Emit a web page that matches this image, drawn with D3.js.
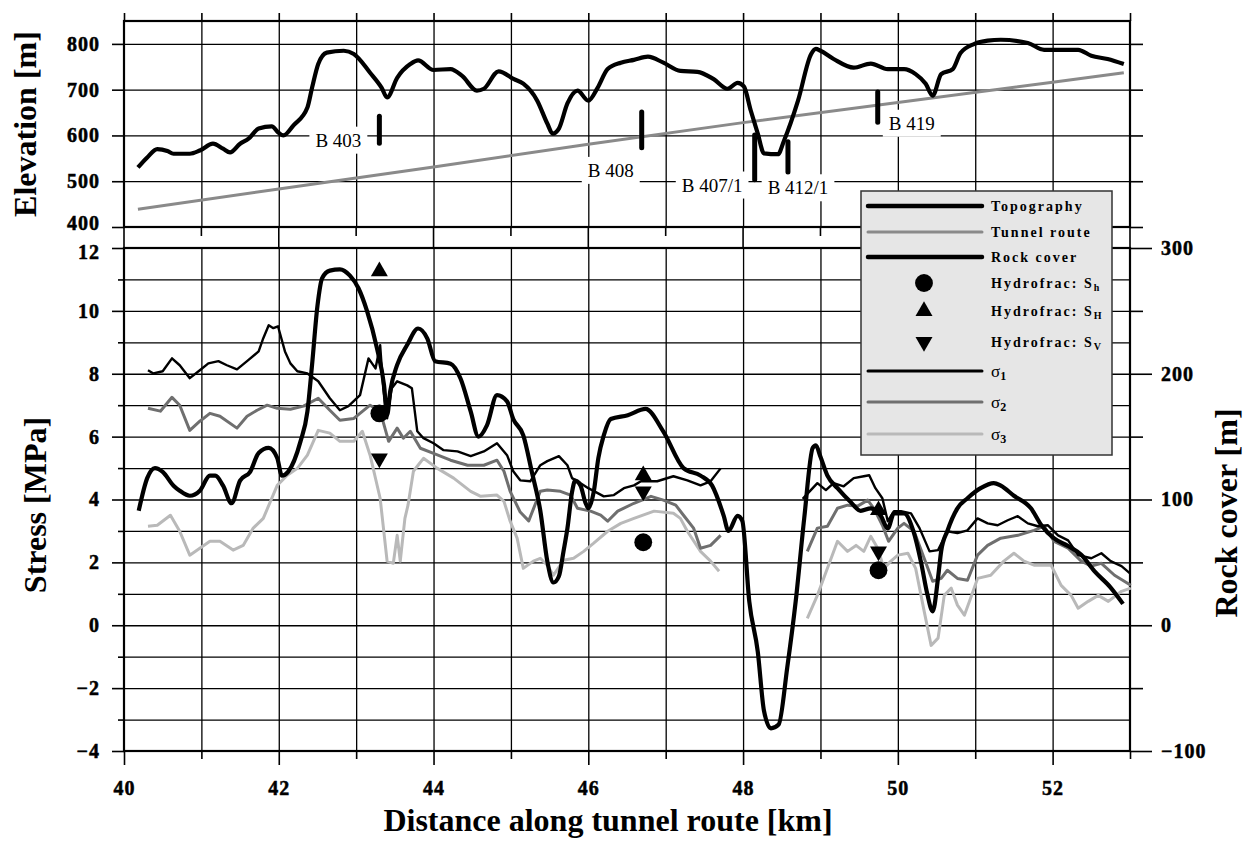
<!DOCTYPE html>
<html>
<head>
<meta charset="utf-8">
<script src="https://cdn.jsdelivr.net/npm/d3@7"></script>
<style>
  body { margin: 0; background: #fff; }
  svg { display: block; }
  text { font-family: "Liberation Serif", "Times New Roman", serif; }
</style>
</head>
<body>
<svg id="chart" width="1250" height="841"></svg>
<script>
// ---- Data: distance [km] along the tunnel route ----

// Surface topography [km, m a.s.l.]
const topography = [
  [40.18,530],[40.30,552],[40.43,570],[40.56,566],[40.64,560],[40.85,560],[40.98,567],[41.15,582],
  [41.28,571],[41.37,563],[41.50,582],[41.61,593],[41.74,615],[41.91,620],[41.99,607],[42.06,600],
  [42.19,622],[42.37,661],[42.43,704],[42.51,756],[42.62,781],[42.84,785],[42.97,778],[43.18,737],
  [43.33,704],[43.40,683],[43.53,726],[43.70,756],[43.80,764],[44.00,743],[44.22,745],[44.37,730],
  [44.56,698],[44.65,702],[44.84,740],[45.04,723],[45.16,713],[45.34,676],[45.47,626],[45.54,604],
  [45.62,615],[45.73,670],[45.86,698],[46.00,676],[46.12,704],[46.25,745],[46.42,759],[46.59,765],
  [46.77,772],[46.97,759],[47.19,741],[47.41,739],[47.62,723],[47.80,702],[47.93,715],[48.01,707],
  [48.10,654],[48.19,604],[48.27,561],[48.45,559],[48.53,589],[48.71,676],[48.88,778],[48.94,789],
  [49.00,785],[49.17,767],[49.43,748],[49.65,757],[49.87,745],[50.08,745],[50.23,734],[50.36,713],
  [50.45,687],[50.56,734],[50.71,745],[50.81,780],[50.99,800],[51.16,807],[51.33,809],[51.68,802],
  [51.89,787],[52.33,787],[52.50,774],[52.71,767],[52.92,756]
];

// Tunnel axis elevation [km, m a.s.l.]
const tunnelRoute = [
  [40.18,439],[42.00,483],[44.00,531],[46.00,581],[48.00,628],[50.00,672],[52.00,716],[52.92,737]
];

// Rock cover above the tunnel [km, m]
const rockCover = [
  [40.19,91],[40.30,117],[40.40,125],[40.50,122],[40.64,111],[40.72,107],[40.85,103],[40.98,107],
  [41.11,119],[41.18,119],[41.28,111],[41.39,97],[41.50,115],[41.63,122],[41.74,137],[41.87,141],
  [41.98,133],[42.04,119],[42.12,122],[42.28,146],[42.37,170],[42.43,207],[42.50,254],[42.56,276],
  [42.66,282],[42.79,283],[42.92,278],[43.03,268],[43.14,250],[43.27,220],[43.36,191],[43.40,167],
  [43.44,186],[43.53,207],[43.66,223],[43.80,236],[43.92,228],[44.02,210],[44.22,208],[44.35,196],
  [44.48,170],[44.58,150],[44.69,159],[44.82,183],[44.95,178],[45.03,164],[45.16,151],[45.27,122],
  [45.38,91],[45.47,51],[45.55,34],[45.62,39],[45.68,59],[45.73,77],[45.79,106],[45.83,115],
  [45.90,111],[45.96,98],[46.00,93],[46.07,106],[46.13,133],[46.20,151],[46.29,164],[46.51,167],
  [46.74,172],[46.97,154],[47.23,125],[47.45,119],[47.60,111],[47.75,87],[47.81,75],[47.93,87],
  [47.99,83],[48.08,19],[48.19,-21],[48.27,-68],[48.36,-82],[48.46,-79],[48.57,-34],[48.68,19],
  [48.79,85],[48.90,141],[48.94,143],[49.00,134],[49.09,119],[49.22,109],[49.39,98],[49.52,91],
  [49.65,93],[49.78,87],[49.87,77],[49.95,89],[50.08,89],[50.20,75],[50.30,50],[50.38,25],
  [50.45,11],[50.52,38],[50.56,59],[50.64,75],[50.77,93],[50.90,101],[51.07,109],[51.24,113],
  [51.33,111],[51.50,103],[51.72,93],[51.85,80],[52.02,69],[52.20,63],[52.37,56],[52.54,43],
  [52.75,30],[52.91,17]
];

// Principal stresses along the route [km, MPa]; null marks the gap in the model
const sigma1 = [
  [40.31,8.11],[40.38,8.01],[40.50,8.08],[40.62,8.49],[40.72,8.27],[40.85,7.86],[40.98,8.11],
  [41.09,8.33],[41.22,8.40],[41.33,8.27],[41.46,8.14],[41.59,8.40],[41.74,8.71],[41.80,9.13],
  [41.87,9.54],[41.93,9.45],[41.99,9.51],[42.08,8.71],[42.15,8.33],[42.24,8.08],[42.37,8.01],
  [42.51,7.76],[42.66,7.22],[42.79,6.84],[42.90,6.97],[43.05,7.32],[43.16,8.49],[43.25,8.17],
  [43.31,8.91],[43.35,7.54],[43.40,6.58],[43.46,7.54],[43.53,7.76],[43.66,7.63],[43.72,7.54],
  [43.79,6.17],[43.87,5.95],[44.00,5.79],[44.13,5.57],[44.31,5.53],[44.48,5.38],[44.65,5.53],
  [44.82,5.79],[44.95,5.41],[45.03,4.90],[45.12,4.61],[45.25,4.58],[45.38,5.09],[45.47,5.22],
  [45.62,5.38],[45.73,5.09],[45.79,4.68],[45.90,4.52],[46.00,4.36],[46.20,4.10],[46.33,4.14],
  [46.46,4.36],[46.59,4.45],[46.68,4.58],[46.89,4.58],[47.10,4.74],[47.28,4.61],[47.45,4.45],
  [47.58,4.58],[47.71,4.99],
  [48.20,null],
  [48.77,4.02],[48.96,4.52],[49.07,4.30],[49.17,4.52],[49.30,4.42],[49.43,4.68],[49.56,4.74],
  [49.63,4.77],[49.71,4.36],[49.80,4.04],[49.87,3.31],[49.95,3.63],[50.04,3.63],[50.17,3.56],
  [50.28,3.09],[50.41,2.35],[50.52,2.39],[50.64,2.99],[50.77,2.93],[50.90,3.02],[51.03,3.40],
  [51.16,3.24],[51.29,3.18],[51.42,3.34],[51.55,3.47],[51.68,3.24],[51.81,3.15],[51.94,3.18],
  [52.07,2.86],[52.20,2.70],[52.33,2.23],[52.50,2.13],[52.63,2.29],[52.75,2.04],[52.89,1.88],
  [53.00,1.65]
];

const sigma2 = [
  [40.31,6.90],[40.47,6.81],[40.62,7.25],[40.72,7.00],[40.85,6.20],[40.98,6.49],[41.11,6.74],
  [41.24,6.65],[41.46,6.27],[41.59,6.65],[41.72,6.84],[41.85,7.00],[41.98,6.90],[42.15,6.87],
  [42.32,6.97],[42.51,7.22],[42.66,6.84],[42.79,6.52],[42.97,6.58],[43.18,7.00],[43.31,6.81],
  [43.42,5.85],[43.53,6.27],[43.61,5.95],[43.70,6.17],[43.83,5.63],[44.00,5.47],[44.22,5.25],
  [44.44,5.09],[44.65,5.09],[44.82,5.25],[44.91,4.90],[44.99,4.26],[45.12,3.60],[45.23,3.32],
  [45.38,4.26],[45.47,4.30],[45.64,4.26],[45.77,4.14],[45.86,3.72],[46.03,3.63],[46.16,3.50],
  [46.25,3.31],[46.38,3.63],[46.59,3.88],[46.81,4.10],[46.97,3.98],[47.13,3.82],[47.23,3.50],
  [47.36,3.09],[47.45,2.45],[47.58,2.54],[47.71,2.86],
  [48.20,null],
  [48.83,2.35],[48.96,3.09],[49.09,3.15],[49.22,3.72],[49.35,3.82],[49.48,3.79],[49.61,3.98],
  [49.69,3.72],[49.80,3.18],[49.88,2.67],[50.00,3.09],[50.08,3.24],[50.21,2.99],[50.34,2.13],
  [50.45,1.40],[50.56,1.49],[50.64,1.75],[50.77,1.49],[50.90,1.43],[51.03,2.23],[51.16,2.54],
  [51.33,2.77],[51.55,2.86],[51.76,3.02],[51.89,3.15],[52.02,2.67],[52.20,2.45],[52.37,2.04],
  [52.50,1.88],[52.63,1.97],[52.80,1.59],[53.01,1.27]
];

const sigma3 = [
  [40.31,3.15],[40.43,3.18],[40.60,3.50],[40.72,2.99],[40.85,2.23],[40.98,2.45],[41.11,2.67],
  [41.24,2.67],[41.41,2.39],[41.54,2.54],[41.67,3.09],[41.80,3.40],[41.98,4.45],[42.11,4.77],
  [42.24,4.99],[42.37,5.41],[42.51,6.20],[42.66,6.11],[42.79,5.85],[42.97,5.85],[43.08,6.17],
  [43.18,5.41],[43.31,4.04],[43.40,2.04],[43.48,1.97],[43.53,2.86],[43.57,2.04],[43.63,3.40],
  [43.67,3.82],[43.74,4.90],[43.80,5.09],[43.87,5.31],[44.05,4.99],[44.26,4.68],[44.48,4.26],
  [44.61,4.10],[44.82,4.14],[44.91,3.94],[44.99,3.31],[45.08,2.77],[45.16,1.81],[45.29,2.04],
  [45.38,2.13],[45.47,1.91],[45.55,1.59],[45.68,2.07],[45.81,2.13],[45.94,2.35],[46.07,2.61],
  [46.25,2.99],[46.42,3.24],[46.59,3.40],[46.85,3.63],[47.10,3.56],[47.19,3.40],[47.28,2.99],
  [47.45,2.35],[47.58,2.04],[47.69,1.72],
  [48.20,null],
  [48.83,0.22],[48.96,0.95],[49.09,1.81],[49.22,2.67],[49.35,2.35],[49.46,2.54],[49.56,2.35],
  [49.65,2.83],[49.74,2.45],[49.82,1.81],[49.91,2.04],[50.00,2.23],[50.13,2.29],[50.23,1.81],
  [50.34,0.45],[50.43,-0.64],[50.52,-0.41],[50.60,0.95],[50.69,1.18],[50.77,0.64],[50.86,0.32],
  [50.94,0.86],[51.03,1.49],[51.20,1.59],[51.37,2.04],[51.50,2.29],[51.63,2.04],[51.76,1.91],
  [51.98,1.91],[52.11,1.27],[52.24,0.95],[52.33,0.54],[52.46,0.76],[52.59,0.95],[52.72,0.76],
  [52.89,1.08],[53.01,1.18]
];

// Hydraulic fracturing results [MPa] at the borehole locations [km]
const hydroKm = [43.30, 46.71, 49.75];
const hydroSh = [6.74, 2.64, 1.75];
const hydroSH = [11.26, 4.77, 3.66];
const hydroSv = [5.31, 4.26, 2.35];

// Boreholes: name, chainage [km], top and bottom of the drawn bar [m a.s.l.]
const boreholeNames = ["B 403", "B 408", "B 407/1", "B 412/1", "B 419"];
const boreholeKm    = [43.30, 46.69, 48.15, 48.58, 49.74];
const boreholeTop   = [642, 651, 601, 586, 695];
const boreholeBase  = [583, 573, 503, 520, 629];
// label anchor (centre) of each borehole name [km, m a.s.l.]
const boreholeLabelKm   = [42.77, 46.29, 47.60, 48.71, 50.18];
const boreholeLabelElev = [590, 524, 492, 486, 627];

// Axis ticks
const kmTicks = d3.range(40, 54, 1);
const kmLabels = [40, 42, 44, 46, 48, 50, 52];
const elevTicks = [400, 500, 600, 700, 800];
const stressMajor = [-4, -2, 0, 2, 4, 6, 8, 10, 12];
const stressMinor = [-3, -1, 1, 3, 5, 7, 9, 11];
const coverMajor = [-100, 0, 100, 200, 300];
const coverMinor = [-50, 50, 150, 250];

// ---- Layout ----
const svg = d3.select("#chart");
const L = 124, R = 1130;
const topTop = 21, topBot = 227, botTop = 248, botBot = 751;

const x = d3.scaleLinear().domain([40, 53]).range([L, R]);
const yElev = d3.scaleLinear().domain([400, 850]).range([topBot, topTop]);
const yStress = d3.scaleLinear().domain([-4, 12]).range([botBot, botTop]);
const yCover = d3.scaleLinear().domain([-100, 300]).range([botBot, botTop]);

const tickFont = g => g.selectAll("text")
  .attr("font-family", null)
  .style("font-family", "'Liberation Serif', serif")
  .style("font-size", "20px").style("font-weight", "900").style("fill", "#000")
  .style("stroke", "#000").style("stroke-width", "0.5px")
  .style("letter-spacing", "1px");
const cleanAxis = g => { g.select(".domain").remove(); g.selectAll("line").attr("stroke", "#000").attr("stroke-width", 1.6); };

// ---- Grids ----
const grid = svg.append("g").attr("stroke", "#000").attr("stroke-width", 1.3);
// upper panel
grid.append("g").attr("transform", `translate(0,${topBot})`)
  .call(d3.axisBottom(x).tickValues(d3.range(41, 53)).tickSize(-(topBot - topTop)).tickFormat(""))
  .call(g => g.select(".domain").remove());
grid.append("g").attr("transform", `translate(${L},0)`)
  .call(d3.axisLeft(yElev).tickValues([500, 600, 700, 800]).tickSize(-(R - L)).tickFormat(""))
  .call(g => g.select(".domain").remove());
// lower panel
grid.append("g").attr("transform", `translate(0,${botBot})`)
  .call(d3.axisBottom(x).tickValues(d3.range(41, 53)).tickSize(-(botBot - botTop)).tickFormat(""))
  .call(g => g.select(".domain").remove());
grid.append("g").attr("transform", `translate(${L},0)`)
  .call(d3.axisLeft(yStress).tickValues(d3.range(-3, 12)).tickSize(-(R - L)).tickFormat(""))
  .call(g => g.select(".domain").remove());
grid.selectAll("line").attr("stroke", "#000").attr("stroke-width", 1.3);

// connections between the two panels: even km run through, odd km get a short tick
const gap = svg.append("g").attr("stroke", "#000").attr("stroke-width", 1.6);
kmTicks.forEach(k => {
  gap.append("line").attr("x1", x(k)).attr("x2", x(k))
    .attr("y1", topBot).attr("y2", k % 2 === 0 || k === 53 ? botTop : topBot + 9);
});

// ---- Axes: upper panel ----
svg.append("g").attr("transform", `translate(${L},0)`)
  .call(d3.axisLeft(yElev).tickValues(elevTicks).tickSize(12).tickPadding(12))
  .call(cleanAxis).call(tickFont)
  .call(g => g.selectAll(".tick").filter(d => d === 400).select("text").attr("dy", "0.12em"));
svg.append("g").attr("transform", `translate(${R},0)`)
  .call(d3.axisRight(yElev).tickValues(elevTicks).tickSize(13).tickFormat(""))
  .call(cleanAxis);
svg.append("g").attr("transform", `translate(0,${topTop})`)
  .call(d3.axisTop(x).tickValues(kmTicks).tickSize(8).tickFormat(""))
  .call(cleanAxis);

// ---- Axes: lower panel ----
svg.append("g").attr("transform", `translate(${L},0)`)
  .call(d3.axisLeft(yStress).tickValues(stressMajor).tickSize(12).tickPadding(12))
  .call(cleanAxis).call(tickFont)
  .call(g => g.selectAll(".tick").filter(d => d === 12).select("text").attr("dy", "0.5em"));
svg.append("g").attr("transform", `translate(${L},0)`)
  .call(d3.axisLeft(yStress).tickValues(stressMinor).tickSize(6).tickFormat(""))
  .call(cleanAxis);
svg.append("g").attr("transform", `translate(${R},0)`)
  .call(d3.axisRight(yCover).tickValues(coverMajor).tickSize(22).tickPadding(9))
  .call(cleanAxis).call(tickFont);
svg.append("g").attr("transform", `translate(${R},0)`)
  .call(d3.axisRight(yCover).tickValues(coverMinor).tickSize(13).tickFormat(""))
  .call(cleanAxis);
svg.append("g").attr("transform", `translate(0,${botBot})`)
  .call(d3.axisBottom(x).tickValues(kmLabels).tickSize(14).tickPadding(16))
  .call(cleanAxis).call(tickFont);
svg.append("g").attr("transform", `translate(0,${botBot})`)
  .call(d3.axisBottom(x).tickValues(kmTicks.filter(k => k % 2 === 1)).tickSize(8).tickFormat(""))
  .call(cleanAxis);

// ---- Panel frames ----
[[topTop, topBot], [botTop, botBot]].forEach(([t, b]) => {
  svg.append("rect").attr("x", L).attr("y", t).attr("width", R - L).attr("height", b - t)
    .attr("fill", "none").attr("stroke", "#000").attr("stroke-width", 2.2);
});

// ---- Upper panel: topography, tunnel and boreholes ----
const lineElev = d3.line().x(d => x(d[0])).y(d => yElev(d[1]));
svg.append("path").datum(tunnelRoute).attr("d", lineElev)
  .attr("fill", "none").attr("stroke", "#8a8a8a").attr("stroke-width", 3);
svg.append("path").datum(topography).attr("d", lineElev.curve(d3.curveMonotoneX))
  .attr("fill", "none").attr("stroke", "#000").attr("stroke-width", 4.2).attr("stroke-linejoin", "round");

const labels = svg.append("g");
boreholeNames.forEach((name, i) => {
  const t = labels.append("text")
    .attr("x", x(boreholeLabelKm[i])).attr("y", yElev(boreholeLabelElev[i])).attr("dy", "0.35em")
    .attr("text-anchor", "middle").style("font-size", "19px").text(name);
  const bb = t.node().getBBox();
  labels.insert("rect", () => t.node())
    .attr("x", bb.x - 6).attr("y", bb.y - 3).attr("width", bb.width + 12).attr("height", bb.height + 6)
    .attr("fill", "#fff");
});
boreholeNames.forEach((name, i) => {
  svg.append("line")
    .attr("x1", x(boreholeKm[i])).attr("x2", x(boreholeKm[i]))
    .attr("y1", yElev(boreholeTop[i])).attr("y2", yElev(boreholeBase[i]))
    .attr("stroke", "#000").attr("stroke-width", 5).attr("stroke-linecap", "round");
});

// ---- Lower panel: stresses and rock cover ----
const lineStress = d3.line().defined(d => d[1] !== null).x(d => x(d[0])).y(d => yStress(d[1]));
const stressSeries = [
  { data: sigma3, color: "#b9b9b9", width: 3 },
  { data: sigma2, color: "#6f6f6f", width: 3 },
  { data: sigma1, color: "#000", width: 2.4 }
];
stressSeries.forEach(s => {
  svg.append("path").datum(s.data).attr("d", lineStress)
    .attr("fill", "none").attr("stroke", s.color).attr("stroke-width", s.width)
    .attr("stroke-linejoin", "round");
});
svg.append("path").datum(rockCover)
  .attr("d", d3.line().x(d => x(d[0])).y(d => yCover(d[1])).curve(d3.curveMonotoneX))
  .attr("fill", "none").attr("stroke", "#000").attr("stroke-width", 4.2).attr("stroke-linejoin", "round");

// hydrofrac markers
const circleSym = d3.symbol().type(d3.symbolCircle).size(250);
const triSym = d3.symbol().type(d3.symbolTriangle).size(125);
hydroKm.forEach((k, i) => {
  svg.append("path").attr("d", circleSym()).attr("fill", "#000")
    .attr("transform", `translate(${x(k)},${yStress(hydroSh[i])})`);
  svg.append("path").attr("d", triSym()).attr("fill", "#000")
    .attr("transform", `translate(${x(k)},${yStress(hydroSH[i])})`);
  svg.append("path").attr("d", triSym()).attr("fill", "#000")
    .attr("transform", `translate(${x(k)},${yStress(hydroSv[i])}) rotate(180)`);
});

// ---- Legend ----
const lg = svg.append("g").attr("transform", "translate(861,191)");
lg.append("rect").attr("width", 251).attr("height", 264)
  .attr("fill", "#e6e6e6").attr("stroke", "#333").attr("stroke-width", 1.5);
const legendItems = [
  { y: 15, type: "line", color: "#000", w: 4.5, label: ["Topography"] },
  { y: 41, type: "line", color: "#8a8a8a", w: 3, label: ["Tunnel route"] },
  { y: 66, type: "line", color: "#000", w: 4.5, label: ["Rock cover"] },
  { y: 92, type: "circle", label: ["Hydrofrac: S", "h"] },
  { y: 120, type: "up", label: ["Hydrofrac: S", "H"] },
  { y: 151, type: "down", label: ["Hydrofrac: S", "V"] },
  { y: 180, type: "line", color: "#000", w: 3, sigma: "1" },
  { y: 211, type: "line", color: "#6f6f6f", w: 3, sigma: "2" },
  { y: 243, type: "line", color: "#b9b9b9", w: 3, sigma: "3" }
];
legendItems.forEach(it => {
  if (it.type === "line") {
    lg.append("line").attr("x1", 7).attr("x2", 121).attr("y1", it.y).attr("y2", it.y)
      .attr("stroke", it.color).attr("stroke-width", it.w).attr("stroke-linecap", "round");
  } else if (it.type === "circle") {
    lg.append("path").attr("d", circleSym()).attr("transform", `translate(63,${it.y})`);
  } else {
    lg.append("path").attr("d", triSym())
      .attr("transform", `translate(63,${it.y})${it.type === "down" ? " rotate(180)" : ""}`);
  }
  const t = lg.append("text").attr("x", 130).attr("y", it.y).attr("dy", "0.35em");
  if (it.sigma) {
    t.append("tspan").style("font-size", "17px").text("σ");
    t.append("tspan").attr("dy", "0.3em").style("font-size", "12px").style("font-weight", "bold").text(it.sigma);
  } else {
    t.style("font-size", "14px").style("font-weight", "bold").style("letter-spacing", "2px");
    t.append("tspan").text(it.label[0]);
    if (it.label[1]) {
      t.append("tspan").attr("dy", "0.3em").style("font-size", "10px").style("letter-spacing", "0px")
        .text(it.label[1]);
    }
  }
});

// ---- Axis titles ----
const title = (txt, tx, ty, rot) => svg.append("text")
  .attr("transform", `translate(${tx},${ty})${rot ? " rotate(-90)" : ""}`)
  .attr("text-anchor", "middle").attr("dy", "0.35em")
  .style("font-size", "32px").style("font-weight", "bold").text(txt);
title("Elevation [m]", 25, 124, true);
title("Stress [MPa]", 35, 505, true);
title("Rock cover [m]", 1226, 513, true);
svg.append("text").attr("x", 608).attr("y", 831).attr("text-anchor", "middle")
  .style("font-size", "32px").style("font-weight", "bold").text("Distance along tunnel route [km]");
</script>
</body>
</html>
